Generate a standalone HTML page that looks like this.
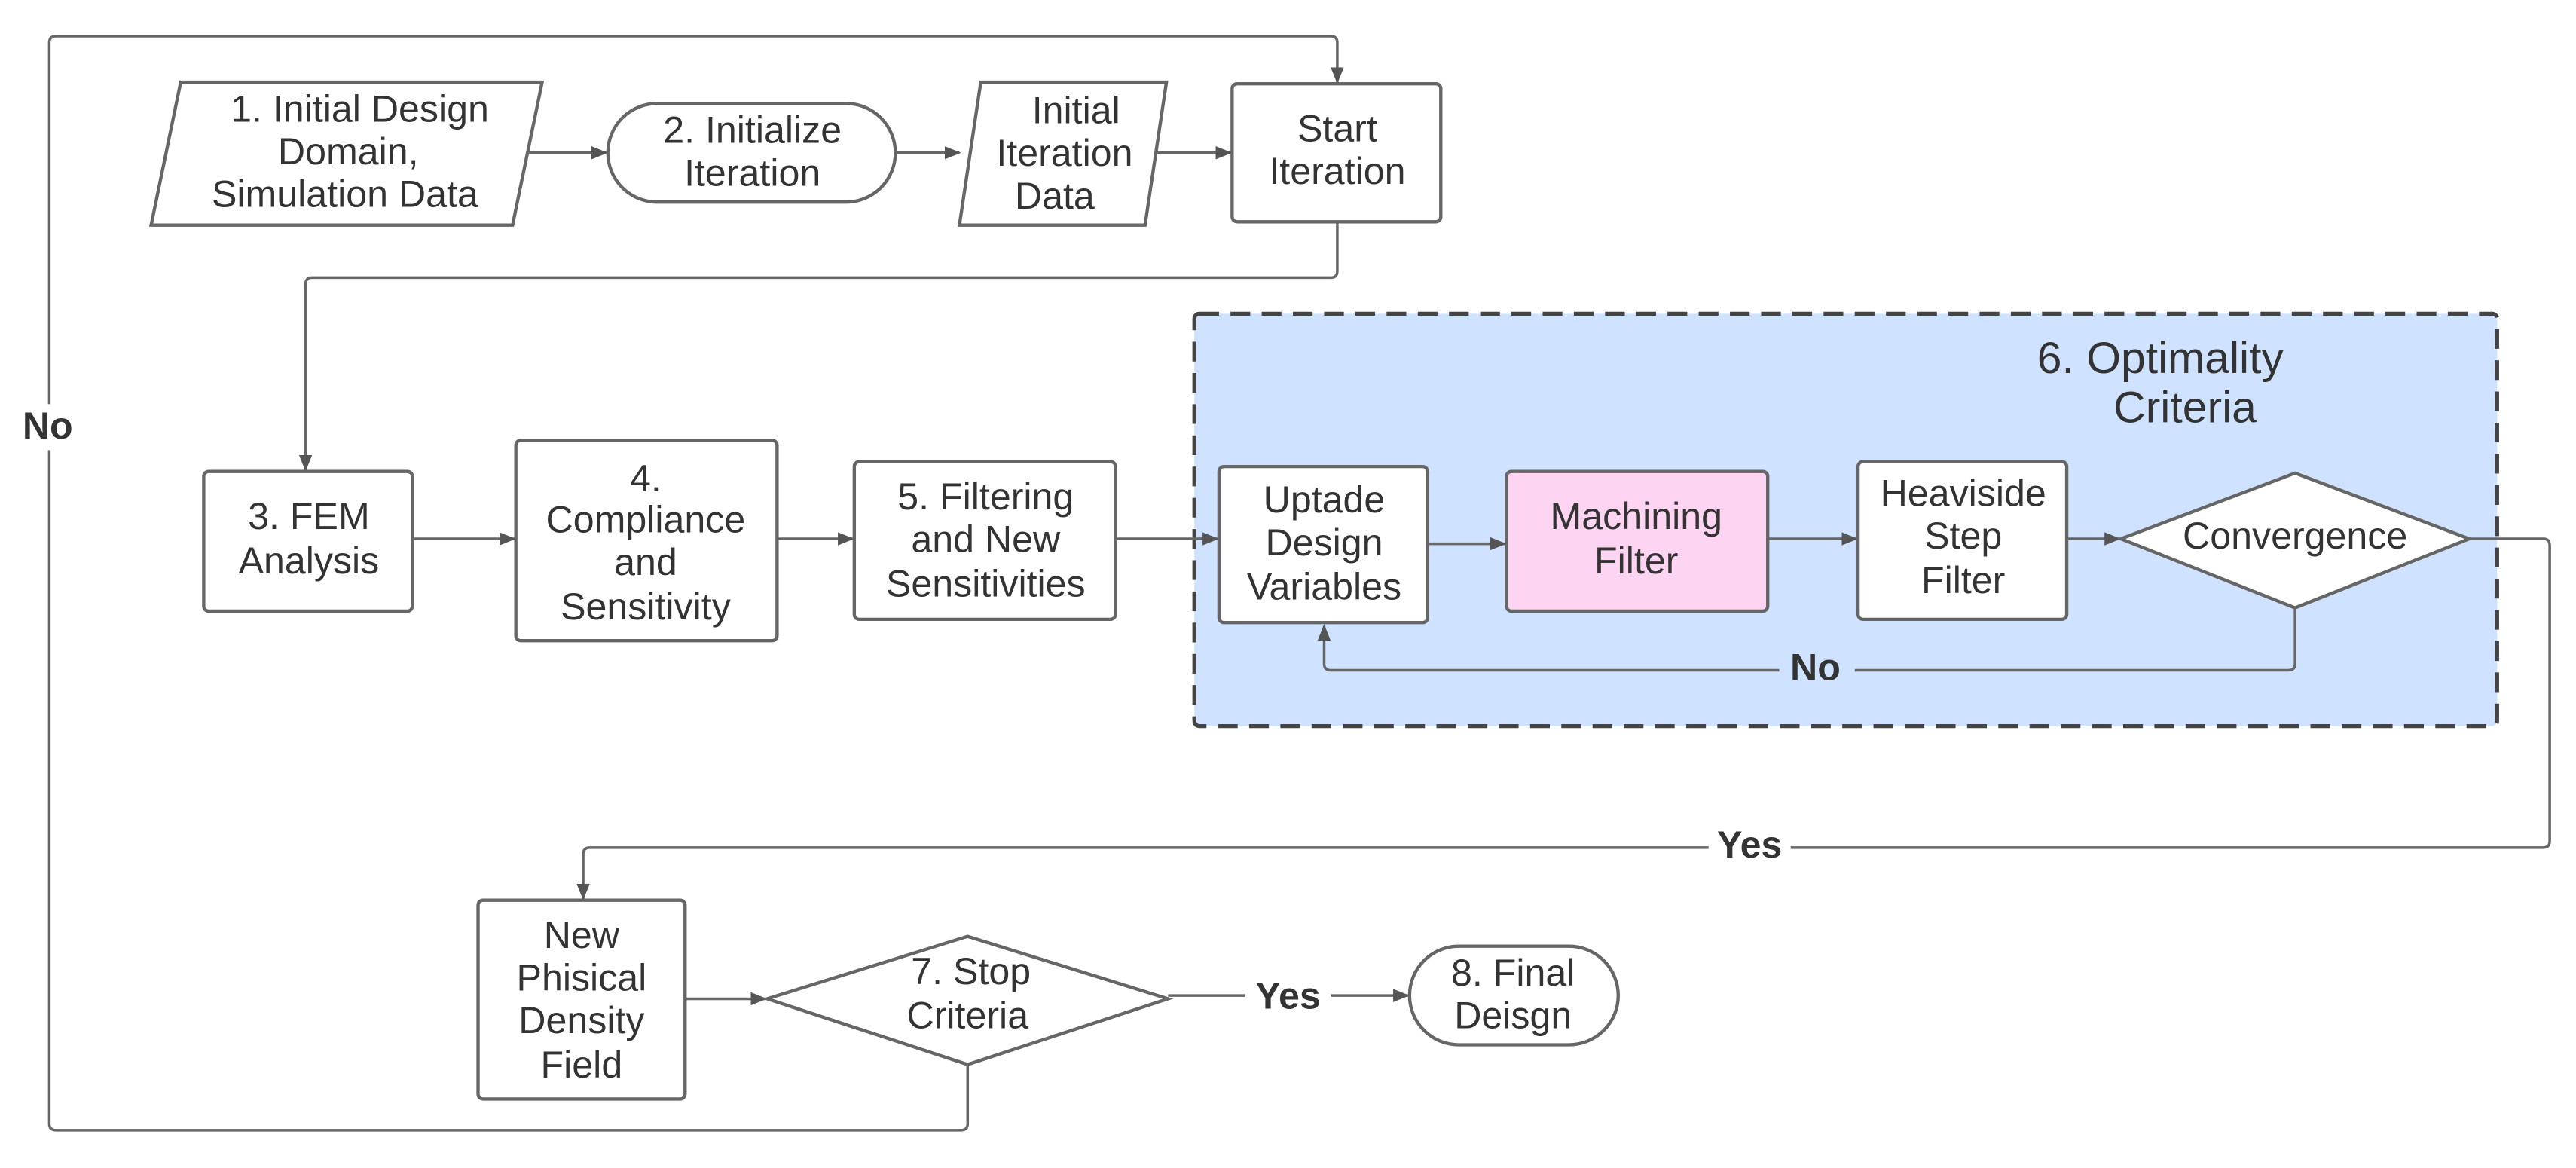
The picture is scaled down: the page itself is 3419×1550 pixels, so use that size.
<!DOCTYPE html>
<html><head><meta charset="utf-8"><style>
html,body{margin:0;padding:0;background:#fff;}
svg{display:block;}
text{font-family:"Liberation Sans",sans-serif;font-size:23px;fill:#333;text-anchor:middle;}
.b{font-weight:bold;fill:#333;}
</style></head><body>
<svg width="3419" height="1550" viewBox="0 0 1568 711" preserveAspectRatio="none" xmlns="http://www.w3.org/2000/svg">
<defs><marker id="a" markerWidth="10" markerHeight="10" refX="9" refY="5" orient="auto" markerUnits="userSpaceOnUse"><path d="M0,1 L10,5 L0,9 z" fill="#555"/></marker></defs>
<g fill="none" stroke="#666" stroke-width="1.6">
<rect x="727" y="191" width="793" height="251" rx="3" fill="#cfe2ff" stroke="#444" stroke-width="2.4" stroke-dasharray="12,7"/>
<path d="M589,648 V684 Q589,688 585,688 H34 Q30,688 30,684 V26 Q30,22 34,22 H810 Q814,22 814,26 V50" marker-end="url(#a)"/>
<path d="M318,93 H369" marker-end="url(#a)"/>
<path d="M545,93 H584" marker-end="url(#a)"/>
<path d="M700,93 H749" marker-end="url(#a)"/>
<path d="M814,135 V165 Q814,169 810,169 H190 Q186,169 186,173 V286" marker-end="url(#a)"/>
<path d="M251,328 H313" marker-end="url(#a)"/>
<path d="M473,328 H519" marker-end="url(#a)"/>
<path d="M679,328 H741" marker-end="url(#a)"/>
<path d="M869,331 H916" marker-end="url(#a)"/>
<path d="M1076,328 H1130" marker-end="url(#a)"/>
<path d="M1258,328 H1290" marker-end="url(#a)"/>
<path d="M1397,370 V404 Q1397,408 1393,408 H810 Q806,408 806,404 V381" marker-end="url(#a)"/>
<path d="M1503,328 H1548 Q1552,328 1552,332 V512 Q1552,516 1548,516 H359 Q355,516 355,520 V547" marker-end="url(#a)"/>
<path d="M417,608 H466" marker-end="url(#a)"/>
<path d="M711,606 H857" marker-end="url(#a)"/>
</g>
<rect x="12" y="246" width="36" height="28" fill="#fff"/>
<text x="29" y="267" class="b">No</text>
<rect x="1083" y="394" width="46" height="24" fill="#cfe2ff"/>
<text x="1105" y="414" class="b">No</text>
<rect x="1040" y="504" width="50" height="22" fill="#fff"/>
<text x="1065" y="522" class="b">Yes</text>
<rect x="758" y="593" width="52" height="26" fill="#fff"/>
<text x="784" y="614" class="b">Yes</text>
<g fill="#fff" stroke="#666" stroke-width="2">
<polygon points="110,50 330,50 312,137 92,137"/>
<rect x="370" y="63" width="175" height="60" rx="30"/>
<polygon points="597,50 710,50 697,137 584,137"/>
<rect x="750" y="51" width="127" height="84" rx="3"/>
<rect x="124" y="287" width="127" height="85" rx="3"/>
<rect x="314" y="268" width="159" height="122" rx="3"/>
<rect x="520" y="281" width="159" height="96" rx="3"/>
<rect x="742" y="284" width="127" height="95" rx="3"/>
<rect x="917" y="287" width="159" height="85" rx="3" fill="#fdd5f3"/>
<rect x="1131" y="281" width="127" height="96" rx="3"/>
<polygon points="1291,328 1397,288 1503,328 1397,370"/>
<rect x="291" y="548" width="126" height="121" rx="3"/>
<polygon points="467,608 589,570 711,608 589,648"/>
<rect x="858" y="576" width="127" height="60" rx="30"/>
</g>
<text x="219" y="74">1. Initial Design</text><text x="212" y="100">Domain,</text><text x="210" y="126">Simulation Data</text>
<text x="458" y="87">2. Initialize</text><text x="458" y="113">Iteration</text>
<text x="655" y="75">Initial</text><text x="648" y="101">Iteration</text><text x="642" y="127">Data</text>
<text x="814" y="86">Start</text><text x="814" y="112">Iteration</text>
<text x="188" y="322">3. FEM</text><text x="188" y="349">Analysis</text>
<text x="393" y="299">4.</text><text x="393" y="324">Compliance</text><text x="393" y="350">and</text><text x="393" y="377">Sensitivity</text>
<text x="600" y="310">5. Filtering</text><text x="600" y="336">and New</text><text x="600" y="363">Sensitivities</text>
<text x="1315" y="227" style="font-size:27px">6. Optimality</text><text x="1330" y="257" style="font-size:27px">Criteria</text>
<text x="806" y="312">Uptade</text><text x="806" y="338">Design</text><text x="806" y="365">Variables</text>
<text x="996" y="322">Machining</text><text x="996" y="349">Filter</text>
<text x="1195" y="308">Heaviside</text><text x="1195" y="334">Step</text><text x="1195" y="361">Filter</text>
<text x="1397" y="334">Convergence</text>
<text x="354" y="577">New</text><text x="354" y="603">Phisical</text><text x="354" y="629">Density</text><text x="354" y="656">Field</text>
<text x="591" y="599">7. Stop</text><text x="589" y="626">Criteria</text>
<text x="921" y="600">8. Final</text><text x="921" y="626">Deisgn</text>
</svg>
</body></html>
